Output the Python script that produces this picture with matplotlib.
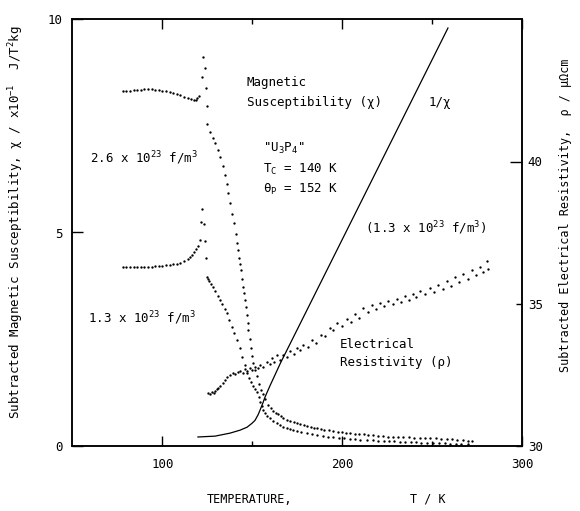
import matplotlib
matplotlib.use('Agg')
import matplotlib.pyplot as plt

plt.rcParams['font.family'] = ['DejaVu Sans Mono', 'DejaVu Sans']
plt.rcParams['mathtext.fontset'] = 'custom'
plt.rcParams['mathtext.rm'] = 'DejaVu Sans Mono'
plt.rcParams['mathtext.it'] = 'DejaVu Sans Mono'
plt.rcParams['mathtext.bf'] = 'DejaVu Sans Mono:bold'

# ---------------- data ----------------
# susceptibility, 2.6e23 f/m^3 sample
T_26 = [78, 80, 82, 84, 86, 88, 90, 92, 94, 96, 98, 100, 102, 104, 106, 108, 110, 112, 114, 116,
        117.5, 118.5, 119.3, 120.3,
        122.7, 123.8, 122.1, 124.4, 124.9, 124.9,
        126.5, 127.9, 129.3, 130.7, 132.1, 133.5, 134.8, 135.7, 136.5, 137.6, 138.7, 139.8, 141.0,
        141.5, 142.1, 142.6, 143.2, 143.7, 144.3, 144.8, 145.4, 146.0, 146.5, 147.1, 147.4, 147.6,
        148.5, 149.3, 149.9, 150.4, 151.5, 152.6, 153.7, 154.8, 155.9, 157.1, 158.9, 160.3, 161.7,
        163.0, 164.4, 165.8, 167.2, 169.0, 171.0, 173.0, 174.8, 176.5, 178.5, 180.5, 182.5, 184.0,
        185.8, 188.0, 190.0, 192.5, 195.0, 197.5, 200.0, 202.0, 204.3, 207.0, 209.5, 212.0, 214.5,
        217.0, 220.0, 222.8, 225.5, 228.0, 231.0, 234.0, 237.0, 240.0, 243.0, 246.0, 249.0, 252.0,
        255.0, 258.0, 261.0, 264.0, 267.0, 270.0, 272.0]
chi_26 = [8.31, 8.32, 8.33, 8.34, 8.35, 8.35, 8.36, 8.36, 8.36, 8.35, 8.34, 8.33, 8.31, 8.29, 8.27,
          8.25, 8.22, 8.19, 8.16, 8.13,
          8.11, 8.12, 8.16, 8.21,
          9.12, 8.86, 8.65, 8.39, 7.97, 7.55,
          7.36, 7.23, 7.10, 6.93, 6.77, 6.56, 6.35, 6.14, 5.93, 5.69, 5.43, 5.22, 4.96,
          4.75, 4.58, 4.40, 4.26, 4.12, 3.92, 3.72, 3.57, 3.42, 3.24, 3.06, 2.88, 2.71,
          2.50, 2.29, 2.11, 1.94, 1.78, 1.62, 1.45, 1.30, 1.20, 1.08, 0.95, 0.88, 0.82,
          0.77, 0.73, 0.69, 0.65, 0.61, 0.58, 0.55, 0.52, 0.50, 0.47, 0.45, 0.43, 0.415,
          0.40, 0.385, 0.37, 0.355, 0.34, 0.325, 0.31, 0.30, 0.29, 0.28, 0.27, 0.26, 0.25,
          0.24, 0.23, 0.22, 0.21, 0.205, 0.20, 0.195, 0.19, 0.185, 0.18, 0.175, 0.17, 0.165,
          0.16, 0.155, 0.145, 0.135, 0.125, 0.115, 0.11]

# susceptibility, 1.3e23 f/m^3 sample
T_13 = [78, 80, 82, 84, 86, 88, 90, 92, 94, 96, 98, 100, 102, 104, 106, 108, 110, 112, 114,
        115.5, 116.5, 117.6, 118.8, 119.8, 121.0,
        121.5, 123.2, 122.1, 123.7, 124.4,
        124.9, 125.4, 126.0, 126.8, 128.2, 129.5, 130.8, 132.1, 133.4, 134.7, 135.9, 137.3,
        138.7, 140.1, 141.5, 142.9, 144.3, 145.7, 147.1, 148.2, 149.3, 150.4, 151.5, 152.6,
        153.7, 154.5, 155.2, 156.2, 157.1, 158.4, 159.8, 161.7, 163.6, 165.4, 167.2, 169.0,
        171.0, 172.8, 174.8, 177.0, 180.2, 183.0, 186.0, 189.0, 192.0, 195.0, 198.0, 201.0,
        204.0, 207.0, 210.0, 213.6, 217.0, 220.0, 223.0, 226.0, 229.0, 232.0, 235.0, 238.0,
        241.0, 244.0, 247.0, 250.6, 254.0, 257.0, 260.0, 263.0, 266.0, 270.0]
chi_13 = [4.19, 4.19, 4.19, 4.19, 4.19, 4.20, 4.20, 4.20, 4.20, 4.21, 4.21, 4.22, 4.23, 4.24,
          4.25, 4.27, 4.29, 4.32, 4.37,
          4.42, 4.47, 4.54, 4.62, 4.68, 4.82,
          5.25, 5.20, 5.55, 4.80, 4.40,
          3.96, 3.91, 3.86, 3.80, 3.72, 3.62, 3.52, 3.42, 3.32, 3.21, 3.11, 2.95,
          2.78, 2.63, 2.48, 2.28, 2.08, 1.90, 1.71, 1.58, 1.48, 1.40, 1.33, 1.26,
          1.14, 1.03, 0.93, 0.84, 0.77, 0.70, 0.64, 0.58, 0.52, 0.48, 0.44, 0.41,
          0.38, 0.36, 0.34, 0.32, 0.29, 0.265, 0.245, 0.225, 0.205, 0.19, 0.175, 0.165,
          0.155, 0.145, 0.135, 0.13, 0.12, 0.115, 0.11, 0.10, 0.095, 0.09, 0.085, 0.08,
          0.075, 0.07, 0.065, 0.06, 0.055, 0.05, 0.045, 0.04, 0.035, 0.03]

# inverse susceptibility (arbitrary units on left scale)
T_inv = [119.8, 129.3, 137.6, 143.2, 147.1, 149.8, 151.5, 153.2, 154.3, 155.9, 157.1, 159.8, 165.7, 258.7]
inv_chi = [0.20, 0.22, 0.29, 0.36, 0.43, 0.52, 0.59, 0.72, 0.83, 1.00, 1.14, 1.40, 1.94, 9.80]

# electrical resistivity (right scale)
T_rho = [125.4, 126.5, 127.6, 128.5, 129.3, 130.4, 131.2, 132.1, 133.5, 134.8, 136.2, 137.6, 139.0,
         140.4, 141.8, 143.2, 144.6, 146.0, 147.3, 148.7, 150.1, 151.5, 152.9, 154.3, 156.2, 158.2,
         159.6, 161.0, 162.3, 163.7, 165.4, 167.1, 169.0, 171.0, 172.9, 174.8, 176.5, 178.2, 180.7,
         183.2, 185.5, 188.0, 190.6, 193.2, 195.1, 197.1, 199.8, 202.6, 204.8, 207.1, 209.3, 211.5,
         214.0, 216.5, 218.7, 221.0, 223.2, 225.4, 227.9, 230.4, 232.6, 234.8, 237.0, 239.3, 241.2,
         243.2, 246.0, 248.7, 251.0, 253.2, 255.7, 258.2, 260.4, 262.6, 264.8, 267.1, 269.6, 272.1,
         274.3, 276.5, 278.2, 280.4, 281.0]
rho = [31.85, 31.82, 31.88, 31.84, 31.92, 31.99, 32.03, 32.08, 32.20, 32.30, 32.40, 32.47, 32.55,
       32.52, 32.60, 32.64, 32.56, 32.68, 32.62, 32.72, 32.66, 32.78, 32.72, 32.85, 32.78, 32.93,
       32.86, 33.08, 32.95, 33.18, 33.00, 33.20, 33.10, 33.32, 33.22, 33.45, 33.35, 33.55, 33.48,
       33.72, 33.62, 33.90, 33.85, 34.15, 34.05, 34.30, 34.20, 34.45, 34.35, 34.62, 34.50, 34.85,
       34.70, 34.95, 34.82, 35.02, 34.90, 35.10, 34.98, 35.15, 35.05, 35.25, 35.12, 35.35, 35.22,
       35.45, 35.32, 35.55, 35.42, 35.65, 35.52, 35.78, 35.62, 35.92, 35.75, 36.05, 35.88, 36.18,
       36.00, 36.30, 36.12, 36.50, 36.20]

x_major = [100, 200, 300]
x_major_labels = ['100', '200', '300']
x_minor = [150, 250]
chi_ticks = [0, 5, 10]
rho_ticks = [30, 35, 40]

# ---------------- figure ----------------
fig = plt.figure(figsize=(5.8, 5.11), dpi=100)
W, H = 580, 511
ax = fig.add_axes([72.3 / W, 1 - 445.5 / H, 450 / W, 426 / H])
ax2 = ax.twinx()

dot = dict(linestyle='none', marker='o', markersize=1.7, markeredgewidth=0, color='black')
ax.plot(T_26, chi_26, **dot)
ax.plot(T_13, chi_13, **dot)
ax.plot(T_inv, inv_chi, color='black', linewidth=0.9)
ax2.plot(T_rho, rho, **dot)

ax.set_xlim(50, 300)
ax.set_ylim(0, 10)
ax2.set_ylim(30, 45)

for a in (ax, ax2):
    for s in a.spines.values():
        s.set_linewidth(1.1)
        s.set_color('black')

ax.set_xticks(x_major)
ax.set_xticklabels(x_major_labels)
ax.set_xticks(x_minor, minor=True)
ax.tick_params(axis='x', which='major', direction='in', length=7, width=1.0,
               top=True, bottom=True, labelsize=9, pad=9)
ax.tick_params(axis='x', which='minor', direction='in', length=3.5, width=1.0,
               top=True, bottom=True)
ax.set_yticks(chi_ticks)
ax.tick_params(axis='y', which='major', direction='in', length=8, width=1.0,
               left=True, right=False, labelsize=9, pad=7)
ax2.set_yticks(rho_ticks)
ax2.tick_params(axis='y', which='major', direction='in', length=4, width=1.0,
                left=False, right=True, labelsize=9, pad=4)
ax2.yaxis.get_major_ticks()[2].tick2line.set_markersize(9)

tr = ax.transAxes
fs = 9
ax.text(0.388, 0.851, 'Magnetic', transform=tr, fontsize=fs, va='center', ha='left')
ax.text(0.388, 0.804, 'Susceptibility (χ)', transform=tr, fontsize=fs, va='center', ha='left')
ax.text(0.791, 0.804, '1/χ', transform=tr, fontsize=fs, va='center', ha='left')
ax.text(0.424, 0.698, '"U$_3$P$_4$"', transform=tr, fontsize=fs, va='center', ha='left')
ax.text(0.424, 0.647, 'T$_C$ = 140 K', transform=tr, fontsize=fs, va='center', ha='left')
ax.text(0.424, 0.602, 'θ$_P$ = 152 K', transform=tr, fontsize=fs, va='center', ha='left')
ax.text(0.650, 0.511, '(1.3 x 10$^{23}$ f/m$^3$)', transform=tr, fontsize=fs, va='center', ha='left')
ax.text(0.039, 0.675, '2.6 x 10$^{23}$ f/m$^3$', transform=tr, fontsize=fs, va='center', ha='left')
ax.text(0.035, 0.299, '1.3 x 10$^{23}$ f/m$^3$', transform=tr, fontsize=fs, va='center', ha='left')
ax.text(0.595, 0.238, 'Electrical', transform=tr, fontsize=fs, va='center', ha='left')
ax.text(0.595, 0.194, 'Resistivity (ρ)', transform=tr, fontsize=fs, va='center', ha='left')

fig.text(16 / W, 1 - 222 / H, 'Subtracted Magnetic Susceptibility, χ / x10$^{-1}$  J/T$^2$kg',
         rotation=90, fontsize=9, ha='center', va='center')
fig.text(565 / W, 1 - 215 / H, 'Subtracted Electrical Resistivity,  ρ / μΩcm',
         rotation=90, fontsize=8.5, ha='center', va='center')
fig.text(207 / W, 1 - 499 / H, 'TEMPERATURE,', fontsize=8.5, ha='left', va='center')
fig.text(410 / W, 1 - 499 / H, 'T / K', fontsize=8.5, ha='left', va='center')

fig.savefig('out.png', dpi=100)
